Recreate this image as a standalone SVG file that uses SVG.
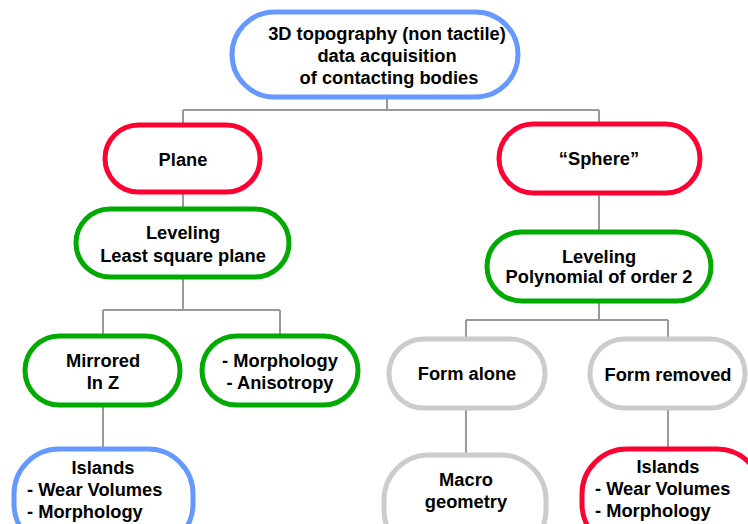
<svg xmlns="http://www.w3.org/2000/svg" width="748" height="524" viewBox="0 0 748 524">
<style>
.n{fill:#fff;stroke-width:5}
.b{stroke:#6699FF}.r{stroke:#FF0033}.g{stroke:#00AA00}.k{stroke:#CCCCCC}
text{font-family:"Liberation Sans",Arial,sans-serif;font-weight:bold;font-size:18.3px;fill:#000;text-anchor:middle}
.l{text-anchor:start}
#connectors path{fill:none;stroke:#999;stroke-width:2}
</style>
<rect width="748" height="524" fill="#fff"/>
<g id="connectors">
<path d="M387 98V110M183 110H599M183 110V125M599 110V125"/>
<path d="M183 192V209M183 277V310M103 310H280M103 310V336M280 310V336M103 405V449"/>
<path d="M599 193V232M599 301V320M466 320H668M466 320V339M668 320V339M466 408V455M668 408V449"/>
</g>
<g id="top"><rect class="n b" x="232" y="12" width="286" height="85" rx="42.5"/>
<text x="387" y="40">3D topography (non tactile)</text><text x="387" y="62">data acquisition</text><text x="389" y="84">of contacting bodies</text></g>
<g id="plane"><rect class="n r" x="105" y="125" width="155" height="67" rx="33.5"/><text x="183" y="166">Plane</text></g>
<g id="sphere"><rect class="n r" x="499" y="124" width="201" height="69" rx="34.5"/><text x="599" y="165">“Sphere”</text></g>
<g id="level-left"><rect class="n g" x="76" y="209" width="213" height="68" rx="34"/><text x="183" y="239">Leveling</text><text x="183" y="262">Least square plane</text></g>
<g id="level-right"><rect class="n g" x="487" y="232" width="224" height="69" rx="34.5"/><text x="599" y="263">Leveling</text><text x="599" y="283">Polynomial of order 2</text></g>
<g id="mirrored"><rect class="n g" x="25" y="336" width="155" height="69" rx="34.5"/><text x="103" y="367">Mirrored</text><text x="103" y="389">In Z</text></g>
<g id="morph"><rect class="n g" x="202" y="336" width="156" height="69" rx="34.5"/><text x="280" y="367">- Morphology</text><text x="280" y="389">- Anisotropy</text></g>
<g id="form-alone"><rect class="n k" x="389" y="339" width="156" height="69" rx="34.5"/><text x="467" y="380">Form alone</text></g>
<g id="form-removed"><rect class="n k" x="590" y="339" width="155" height="69" rx="34.5"/><text x="668" y="381">Form removed</text></g>
<g id="islands-left"><rect class="n b" x="14" y="449" width="179" height="100" rx="45"/><text x="103" y="474">Islands</text><text class="l" x="27" y="496">- Wear Volumes</text><text class="l" x="27" y="518">- Morphology</text></g>
<g id="macro"><rect class="n k" x="384" y="455" width="162" height="100" rx="45"/><text x="466" y="486">Macro</text><text x="466" y="508">geometry</text></g>
<g id="islands-right"><rect class="n r" x="582" y="449" width="180" height="100" rx="45"/><text x="668" y="473">Islands</text><text class="l" x="595" y="495">- Wear Volumes</text><text class="l" x="595" y="517">- Morphology</text></g>
</svg>
